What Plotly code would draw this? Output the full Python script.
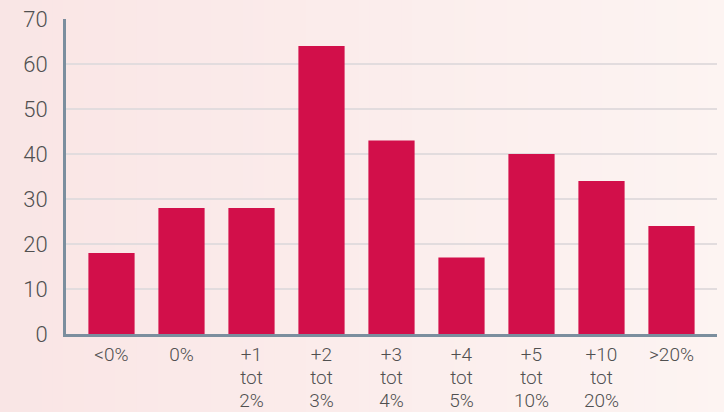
import plotly.graph_objects as go

categories = ["<0%", "0%", "+1 tot 2%", "+2 tot 3%", "+3 tot 4%",
              "+4 tot 5%", "+5 tot 10%", "+10 tot 20%", ">20%"]
label_line1 = ["<0%", "0%", "+1", "+2", "+3", "+4", "+5", "+10", ">20%"]
label_line2 = ["", "", "tot", "tot", "tot", "tot", "tot", "tot", ""]
label_line3 = ["", "", "2%", "3%", "4%", "5%", "10%", "20%", ""]
values = [18, 28, 28, 64, 43, 17, 40, 34, 24]
y_ticks = [0, 10, 20, 30, 40, 50, 60, 70]

pos = list(range(len(categories)))
fig = go.Figure()
fig.add_trace(go.Bar(x=pos, y=values, name="aantal",
                     marker=dict(color="#D20F4A", line=dict(width=0)),
                     width=0.66, hoverinfo="skip"))
# invisible helper traces so the extra label axes are drawn
for ax in ["x2", "x3"]:
    fig.add_trace(go.Scatter(x=pos, y=[0] * len(pos), xaxis=ax, yaxis="y",
                             mode="markers", marker=dict(opacity=0),
                             hoverinfo="skip", showlegend=False))

# background gradient (left pink -> right lighter)
n = 80
c0 = (249, 228, 228)
c1 = (253, 245, 243)
shapes = []
for i in range(n):
    t = i / (n - 1)
    c = tuple(round(c0[k] + (c1[k] - c0[k]) * t) for k in range(3))
    shapes.append(dict(type="rect", xref="paper", yref="paper",
                       x0=-0.2 + 1.3 * i / n, x1=-0.2 + 1.3 * (i + 1) / n + 0.002,
                       y0=-0.5, y1=1.2, fillcolor="rgb(%d,%d,%d)" % c,
                       line=dict(width=0), layer="below"))

TXT = "#505050"
tf_y = dict(size=22, color=TXT, family="Roboto", weight=300)
tf_x = dict(size=19, color=TXT, family="Roboto", weight=300)
fig.update_layout(
    width=724, height=412,
    margin=dict(l=66, r=7, t=19, b=78, autoexpand=False),
    paper_bgcolor="#FBEDEC", plot_bgcolor="rgba(0,0,0,0)",
    shapes=shapes, showlegend=False,
    font=dict(family="Roboto", size=22, color=TXT),
    bargap=0.34,
)
common = dict(range=[-0.65, 8.65], tickmode="array", tickvals=pos,
              showgrid=False, ticks="", zeroline=False, fixedrange=True,
              automargin=False, tickfont=tf_x)
fig.update_layout(
    xaxis=dict(ticktext=label_line1, showline=True, linecolor="#7B8E9E",
               linewidth=3, ticklabelstandoff=1, **common),
    xaxis2=dict(ticktext=label_line2, overlaying="x", anchor="y", side="bottom",
                showline=False, ticklabelstandoff=30, **common),
    xaxis3=dict(ticktext=label_line3, overlaying="x", anchor="y", side="bottom",
                showline=False, ticklabelstandoff=53, **common),
)
fig.update_yaxes(range=[0, 70], tickvals=y_ticks, showline=True,
                 linecolor="#7B8E9E", linewidth=3, gridcolor="#E2DCDE",
                 gridwidth=2, ticks="", ticklabelstandoff=11,
                 tickfont=tf_y, zeroline=False, fixedrange=True, automargin=False)

fig.write_html("out.html", config={"displayModeBar": False},
               post_script="document.body.style.margin='0';document.body.style.overflow='hidden';")
